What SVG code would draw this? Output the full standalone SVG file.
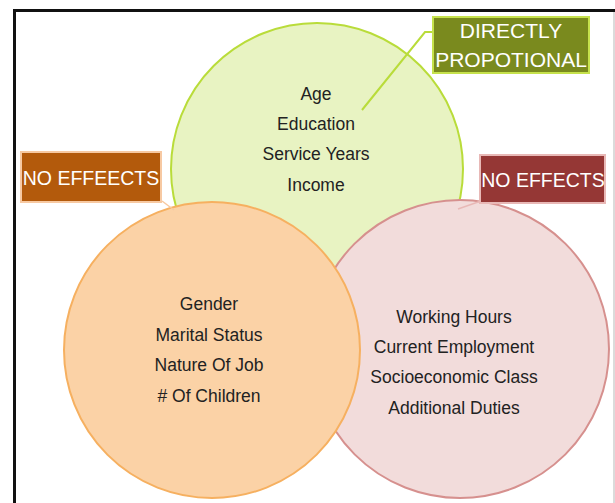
<svg xmlns="http://www.w3.org/2000/svg" width="615" height="503" viewBox="0 0 615 503">
<style>
text{font-family:"Liberation Sans",Arial,sans-serif;text-anchor:middle}
.t{font-size:17.5px;fill:#222}
.b{font-size:21px;fill:#ffffff}
</style>
<rect width="615" height="503" fill="#ffffff"/>
<path d="M14.5,503 V10.5 H615" fill="none" stroke="#111" stroke-width="3"/>
<line x1="614" y1="12" x2="614" y2="503" stroke="#cfcfcf" stroke-width="1.5"/>
<g id="circle-green">
<circle cx="317" cy="169" r="146" fill="#e8f3c2" stroke="#b9dc3a" stroke-width="2"/>
<text class="t" x="316" y="100">Age</text>
<text class="t" x="316" y="130">Education</text>
<text class="t" x="316" y="160">Service Years</text>
<text class="t" x="316" y="191">Income</text>
</g>
<g id="circle-pink">
<circle cx="460" cy="349" r="149" fill="#f2dcdb" stroke="#d6908e" stroke-width="2"/>
<text class="t" x="454" y="323">Working Hours</text>
<text class="t" x="454" y="353">Current Employment</text>
<text class="t" x="454" y="383">Socioeconomic Class</text>
<text class="t" x="454" y="414">Additional Duties</text>
</g>
<g id="circle-orange">
<circle cx="212" cy="350" r="148" fill="#fbd2a6" stroke="#f6b060" stroke-width="2"/>
<text class="t" x="209" y="310">Gender</text>
<text class="t" x="209" y="341">Marital Status</text>
<text class="t" x="209" y="371">Nature Of Job</text>
<text class="t" x="209" y="402"># Of Children</text>
</g>
<g id="connectors">
<polyline points="433,32 425,32 362,110" fill="none" stroke="#b9dc3a" stroke-width="2"/>
<line x1="162" y1="201" x2="174" y2="210" stroke="#f8c9a0" stroke-width="1.5"/>
<line x1="481" y1="201" x2="458" y2="209" stroke="#e8b8b6" stroke-width="1.5"/>
</g>
<g id="box-directly">
<rect x="433" y="17" width="156" height="56" fill="#7a8a1e" stroke="#c6e24c" stroke-width="2"/>
<text class="b" x="511" y="38">DIRECTLY</text>
<text class="b" x="511" y="67">PROPOTIONAL</text>
</g>
<g id="box-noeffeects">
<rect x="21" y="152" width="140" height="50" fill="#b35a0c" stroke="#f7c9a2" stroke-width="2"/>
<text class="b" x="91" y="185" style="font-size:19.5px">NO EFFEECTS</text>
</g>
<g id="box-noeffects">
<rect x="480" y="155" width="125" height="48" fill="#953735" stroke="#e8b8b6" stroke-width="2"/>
<text class="b" x="543" y="187" style="font-size:19.5px">NO EFFECTS</text>
</g>
</svg>
